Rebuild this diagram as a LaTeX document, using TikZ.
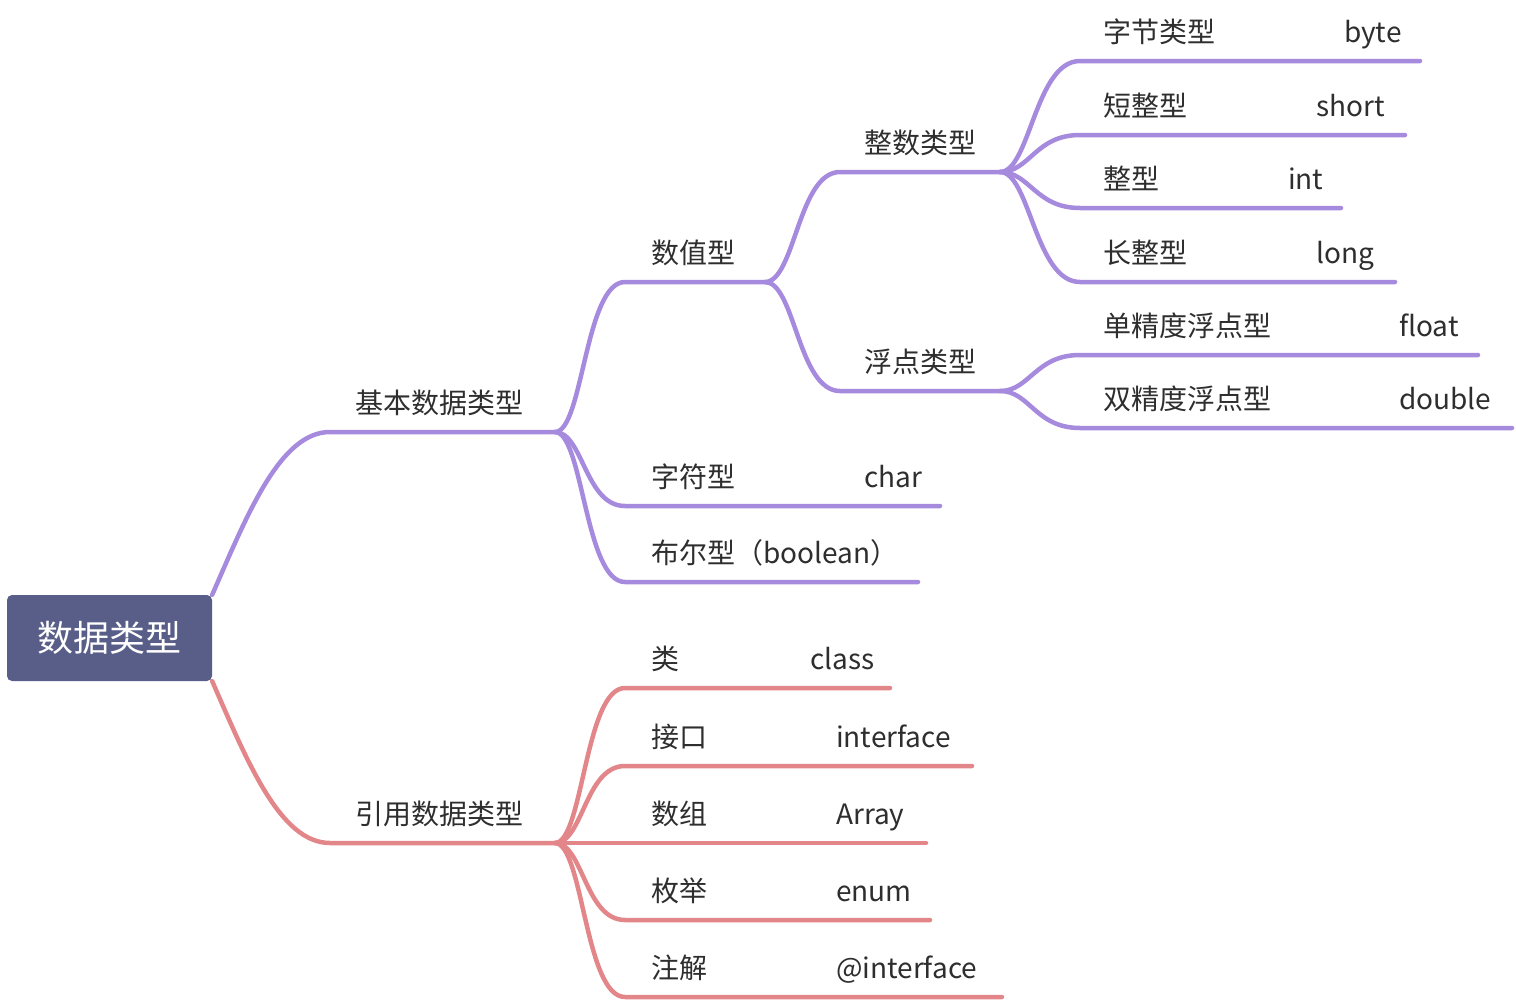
\documentclass[tikz,border=0pt]{standalone}
\usepackage{fontspec}
\setmainfont{Noto Sans CJK SC}
\pgfdeclarelayer{background}
\pgfsetlayers{background,main}
\definecolor{pu}{HTML}{A68ADE}
\definecolor{rd}{HTML}{E3868A}
\definecolor{rootc}{HTML}{585E88}
\definecolor{txt}{HTML}{2E2E2E}
\tikzset{
  lbl/.style={anchor=base west, text=txt, inner sep=0pt, font=\fontsize{28}{28}\selectfont},
  pedge/.style={draw=pu, line width=4.5pt, line cap=round},
  redge/.style={draw=rd, line width=4.5pt, line cap=round},
  rootbox/.style={fill=rootc, rounded corners=5pt, minimum width=205pt, minimum height=86pt, inner sep=0pt, text=white, font=\fontsize{36}{36}\selectfont}
}
\begin{document}
\begin{tikzpicture}[x=1pt,y=-1pt]
\useasboundingbox (0,0) rectangle (1516,1002);
% root
\node[rootbox] (root) at (109.5,638) {数据类型};
% coordinates: curve ends (a) and line ends / junctions (e)
\coordinate (jb-a) at (330,432); \coordinate (jb) at (555,432);
\coordinate (yy-a) at (330,843); \coordinate (yy) at (555,843);
\coordinate (sz-a) at (625,282); \coordinate (sz) at (765,282);
\coordinate (zf-a) at (625,506); \coordinate (zf) at (940,506);
\coordinate (be-a) at (625,582); \coordinate (be) at (918,582);
\coordinate (zs-a) at (840,172); \coordinate (zs) at (1000,172);
\coordinate (fd-a) at (840,391); \coordinate (fd) at (1000,391);
\coordinate (by-a) at (1080,61); \coordinate (by) at (1420,61);
\coordinate (sh-a) at (1080,135); \coordinate (sh) at (1405,135);
\coordinate (in-a) at (1080,208); \coordinate (inn) at (1341,208);
\coordinate (lo-a) at (1080,282); \coordinate (lo) at (1395,282);
\coordinate (fl-a) at (1080,355); \coordinate (fl) at (1478,355);
\coordinate (db-a) at (1080,428); \coordinate (db) at (1512,428);
\coordinate (cl-a) at (625,688); \coordinate (cl) at (890,688);
\coordinate (it-a) at (625,766); \coordinate (it) at (972,766);
\coordinate (ar) at (926,843);
\coordinate (en-a) at (625,920); \coordinate (en) at (930,920);
\coordinate (an-a) at (625,997); \coordinate (an) at (1002,997);
% labels
\node[lbl] (t-jb) at (355,413) {基本数据类型};
\node[lbl] (t-yy) at (355,824) {引用数据类型};
\node[lbl] (t-sz) at (651,263) {数值型};
\node[lbl] (t-zf) at (651,487) {\makebox[213pt][l]{字符型}char};
\node[lbl] (t-be) at (651,563) {布尔型（boolean）};
\node[lbl] (t-zs) at (864,153) {整数类型};
\node[lbl] (t-fd) at (864,372) {浮点类型};
\node[lbl] (t-by) at (1103,42) {\makebox[241pt][l]{字节类型}byte};
\node[lbl] (t-sh) at (1103,116) {\makebox[213pt][l]{短整型}short};
\node[lbl] (t-in) at (1103,189) {\makebox[185pt][l]{整型}int};
\node[lbl] (t-lo) at (1103,263) {\makebox[213pt][l]{长整型}long};
\node[lbl] (t-fl) at (1103,336) {\makebox[296pt][l]{单精度浮点型}float};
\node[lbl] (t-db) at (1103,409) {\makebox[296pt][l]{双精度浮点型}double};
\node[lbl] (t-cl) at (651,669) {\makebox[159pt][l]{类}class};
\node[lbl] (t-it) at (651,747) {\makebox[185pt][l]{接口}interface};
\node[lbl] (t-ar) at (651,824) {\makebox[185pt][l]{数组}Array};
\node[lbl] (t-en) at (651,901) {\makebox[185pt][l]{枚举}enum};
\node[lbl] (t-an) at (651,978) {\makebox[185pt][l]{注解}@interface};
\begin{pgfonlayer}{background}
% purple branch
\draw[pedge] (root.north east) .. controls +(35,-80) and +(-50,0) .. (jb-a) -- (jb);
\draw[pedge] (jb) .. controls +(28,0) and +(-40,0) .. (sz-a) -- (sz);
\draw[pedge] (jb) .. controls +(28,0) and +(-40,0) .. (zf-a) -- (zf);
\draw[pedge] (jb) .. controls +(28,0) and +(-40,0) .. (be-a) -- (be);
\draw[pedge] (sz) .. controls +(30,0) and +(-42,0) .. (zs-a) -- (zs);
\draw[pedge] (sz) .. controls +(30,0) and +(-42,0) .. (fd-a) -- (fd);
\draw[pedge] (zs) .. controls +(30,0) and +(-45,0) .. (by-a) -- (by);
\draw[pedge] (zs) .. controls +(30,0) and +(-45,0) .. (sh-a) -- (sh);
\draw[pedge] (zs) .. controls +(30,0) and +(-45,0) .. (in-a) -- (inn);
\draw[pedge] (zs) .. controls +(30,0) and +(-45,0) .. (lo-a) -- (lo);
\draw[pedge] (fd) .. controls +(30,0) and +(-45,0) .. (fl-a) -- (fl);
\draw[pedge] (fd) .. controls +(30,0) and +(-45,0) .. (db-a) -- (db);
% red branch
\draw[redge] (root.south east) .. controls +(35,80) and +(-50,0) .. (yy-a) -- (yy);
\draw[redge] (yy) .. controls +(28,0) and +(-40,0) .. (cl-a) -- (cl);
\draw[redge] (yy) .. controls +(28,0) and +(-40,0) .. (it-a) -- (it);
\draw[redge] (yy) -- (ar);
\draw[redge] (yy) .. controls +(28,0) and +(-40,0) .. (en-a) -- (en);
\draw[redge] (yy) .. controls +(28,0) and +(-40,0) .. (an-a) -- (an);
\end{pgfonlayer}
\end{tikzpicture}
\end{document}
